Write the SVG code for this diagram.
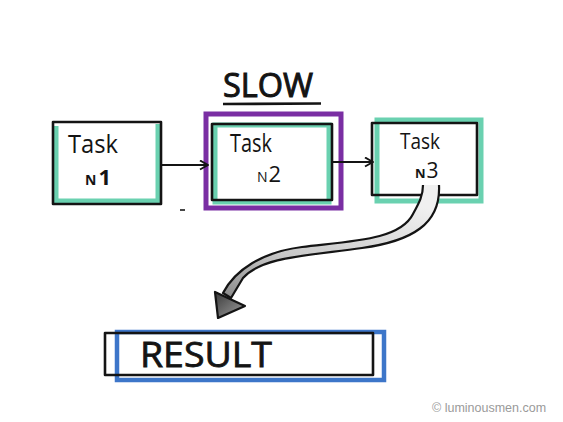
<svg xmlns="http://www.w3.org/2000/svg" width="563" height="422" viewBox="0 0 563 422">
<defs>
<style>
.ink{fill:none;stroke:#141414;stroke-width:2.6;stroke-linejoin:round}
.green{fill:none;stroke:#6ad1b0;stroke-width:5}
.purple{fill:none;stroke:#7a2ea3;stroke-width:5}
.blue{fill:none;stroke:#3d76c9;stroke-width:4.5}
.hand{font-family:"Open Sans","DejaVu Sans",sans-serif;fill:#141414}
.conn{fill:none;stroke:#141414;stroke-width:2.2}
</style>
<marker id="chev" markerWidth="12" markerHeight="12" refX="9" refY="5" orient="auto" markerUnits="userSpaceOnUse">
<path d="M1,0.5 L9,5 L1,9.5" fill="none" stroke="#141414" stroke-width="2" stroke-linejoin="round"/>
</marker>
<linearGradient id="band" x1="0" y1="1" x2="0.6" y2="0">
<stop offset="0" stop-color="#8a8a8a"/>
<stop offset="0.4" stop-color="#c8c8c8"/>
<stop offset="1" stop-color="#f0f0f0"/>
</linearGradient>
<linearGradient id="head" x1="0" y1="0" x2="1" y2="1">
<stop offset="0" stop-color="#3a3a3a"/>
<stop offset="1" stop-color="#a0a0a0"/>
</linearGradient>
</defs>
<rect width="563" height="422" fill="#ffffff"/>

<g id="title">
<text x="223" y="97" class="hand" font-size="33" textLength="90" lengthAdjust="spacingAndGlyphs" stroke="#141414" stroke-width="1">SLOW</text>
<path d="M223,104 L321,103.5" class="ink" stroke-width="3"/>
</g>

<g id="task1">
<path d="M56,126 L56,201 L158,201 L158,124" class="green" stroke-width="6"/>
<rect x="53" y="122" width="108" height="82" class="ink"/>
<text x="68" y="153" class="hand" font-size="26" textLength="50" lengthAdjust="spacingAndGlyphs">Task</text>
<text x="85" y="185" class="hand" font-size="14" font-weight="bold">N<tspan dx="2" font-size="22">1</tspan></text>
</g>

<g id="task2">
<rect x="206" y="114" width="135" height="94" class="purple"/>
<rect x="215" y="125" width="114" height="77" class="green"/>
<rect x="212" y="124" width="120" height="76" class="ink"/>
<text x="230" y="152" class="hand" font-size="26" textLength="42" lengthAdjust="spacingAndGlyphs">Task</text>
<text x="257" y="182" class="hand" font-size="14">N<tspan dx="1" font-size="22">2</tspan></text>
</g>

<g id="task3">
<rect x="377" y="120" width="104" height="81" class="green" stroke-width="6"/>
<rect x="372" y="123" width="105" height="72" class="ink"/>
<text x="400" y="149" class="hand" font-size="22" textLength="40" lengthAdjust="spacingAndGlyphs">Task</text>
<text x="415" y="178" class="hand" font-size="13" font-weight="bold">N<tspan dx="1" font-size="21" font-weight="normal">3</tspan></text>
</g>

<g id="result">
<rect x="117" y="332" width="267" height="48" class="blue"/>
<rect x="105" y="333" width="268" height="42" class="ink"/>
<text x="140" y="367" class="hand" font-size="35" textLength="132" lengthAdjust="spacingAndGlyphs" stroke="#141414" stroke-width="0.8">RESULT</text>
</g>

<g id="connectors">
<path d="M162,165 L208,165" class="conn" marker-end="url(#chev)"/>
<path d="M332,162 L373,162" class="conn" marker-end="url(#chev)"/>
<path d="M439,185 C441,224 412,241 362,248 C304,256 262,257 243,278 L231,298 L223,293 C235,270 262,252 302,247 C352,241 400,240 413,214 C419,203 423,196 423,185" fill="url(#band)" stroke="#141414" stroke-width="2.2" stroke-linejoin="round"/>
<path d="M215,292 L218,318 L245,306 Z" fill="url(#head)" stroke="#141414" stroke-width="2.2" stroke-linejoin="round"/>
</g>

<path d="M180,210 L185,210" stroke="#333" stroke-width="1.8"/>
<text x="432" y="412" font-family="'Liberation Sans',sans-serif" font-size="12.5" fill="#9a9a9a">© luminousmen.com</text>
</svg>
